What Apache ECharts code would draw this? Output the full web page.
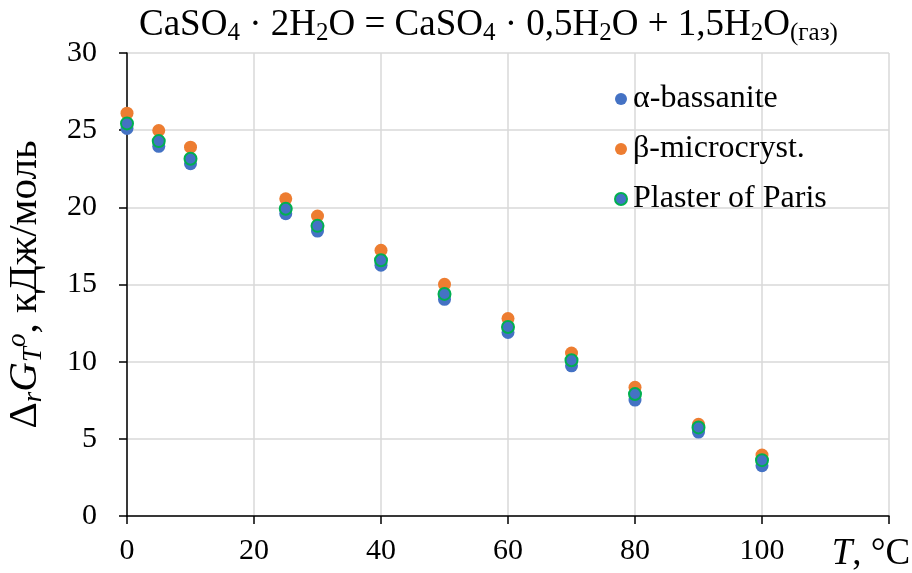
<!DOCTYPE html>
<html>
<head>
<meta charset="utf-8">
<script src="https://cdn.jsdelivr.net/npm/echarts@6/dist/echarts.min.js"></script>
<style>
  html, body { margin: 0; padding: 0; background: #fff; overflow: hidden; }
  #chart { width: 912px; height: 573px; }
</style>
</head>
<body>
<div id="chart"></div>
<script>
// температура, °C
const temps = [0, 5, 10, 25, 30, 40, 50, 60, 70, 80, 90, 100]

// ΔrG°T, кДж/моль
const alphaBassanite = [25.11, 23.95, 22.83, 19.59, 18.46, 16.25, 14.04, 11.89, 9.73, 7.51, 5.44, 3.26]
const betaMicrocryst = [26.1, 24.98, 23.9, 20.55, 19.44, 17.22, 15.01, 12.79, 10.56, 8.34, 5.94, 3.95]
const plasterOfParis = [25.44, 24.29, 23.15, 19.91, 18.8, 16.57, 14.39, 12.25, 10.09, 7.9, 5.74, 3.62]

const seriesNames = ['α-bassanite', 'β-microcryst.', 'Plaster of Paris']

const serif = 'Liberation Serif'

function pairs(vals) {
  return temps.map((t, i) => [t, vals[i]])
}

const chart = echarts.init(document.getElementById('chart'))

const option = {
  animation: false,
  backgroundColor: '#fff',
  title: {
    text: 'CaSO{s|4} · 2H{s|2}O = CaSO{s|4} · 0,5H{s|2}O + 1,5H{s|2}O{s|(газ)}',
    left: 134,
    top: 0,
    textStyle: {
      fontFamily: serif,
      fontSize: 37,
      fontWeight: 'normal',
      color: '#000',
      rich: {
        s: { fontFamily: serif, fontSize: 25, padding: [16, 0, 0, 0], color: '#000' }
      }
    }
  },
  legend: {
    orient: 'vertical',
    left: 609,
    top: 78,
    icon: 'circle',
    itemWidth: 12,
    itemHeight: 12,
    itemGap: 18,
    textStyle: { fontFamily: serif, fontSize: 32, color: '#000', padding: [0, 0, 0, 1] },
    data: seriesNames
  },
  grid: { left: 127, right: 23, top: 53, bottom: 57, containLabel: false, outerBoundsMode: 'none' },
  xAxis: {
    type: 'value',
    min: 0,
    max: 120,
    interval: 20,
    axisLine: { show: true, lineStyle: { color: '#000', width: 1.5 } },
    axisTick: { show: true, length: 8, lineStyle: { color: '#000', width: 1.5 } },
    splitLine: { show: true, lineStyle: { color: '#d9d9d9', width: 1.5 } },
    axisLabel: {
      showMaxLabel: true,
      margin: 20,
      fontFamily: serif,
      fontSize: 30,
      color: '#000',
      formatter: (v) => v === 120 ? '{it|T}{n|, °C}{pad|}' : String(v),
      rich: {
        it: { fontFamily: serif, fontStyle: 'italic', fontSize: 37, color: '#000' },
        n: { fontFamily: serif, fontSize: 37, color: '#000' },
        pad: { width: 36 }
      }
    }
  },
  yAxis: {
    type: 'value',
    min: 0,
    max: 30,
    interval: 5,
    name: 'Δ{s|r}{it|G}{s|T}{sup|o}, кДж/моль',
    nameLocation: 'middle',
    nameRotate: 90,
    nameGap: 80,
    nameTextStyle: {
      fontFamily: serif,
      fontSize: 41,
      color: '#000',
      rich: {
        s: { fontFamily: serif, fontSize: 27, fontStyle: 'italic', padding: [16, 0, 0, 0], color: '#000' },
        sup: { fontFamily: serif, fontSize: 27, fontStyle: 'italic', padding: [0, 0, 16, 0], color: '#000' },
        it: { fontFamily: serif, fontSize: 41, fontStyle: 'italic', color: '#000' }
      }
    },
    axisLine: { show: true, lineStyle: { color: '#000', width: 1.5 } },
    axisTick: { show: true, length: 8, lineStyle: { color: '#000', width: 1.5 } },
    splitLine: { show: true, lineStyle: { color: '#d9d9d9', width: 1.5 } },
    axisLabel: {
      margin: 30,
      fontFamily: serif,
      fontSize: 30,
      color: '#000'
    }
  },
  series: [
    {
      name: seriesNames[0],
      type: 'scatter',
      symbol: 'circle',
      symbolSize: 13,
      itemStyle: { color: '#4472C4', opacity: 1 },
      data: pairs(alphaBassanite)
    },
    {
      name: seriesNames[1],
      type: 'scatter',
      symbol: 'circle',
      symbolSize: 13,
      itemStyle: { color: '#ED7D31', opacity: 1 },
      data: pairs(betaMicrocryst)
    },
    {
      name: seriesNames[2],
      type: 'scatter',
      symbol: 'circle',
      symbolSize: 12,
      itemStyle: { color: '#4472C4', borderColor: '#00B050', borderWidth: 2, opacity: 1 },
      data: pairs(plasterOfParis)
    }
  ]
}

chart.setOption(option)
</script>
</body>
</html>
